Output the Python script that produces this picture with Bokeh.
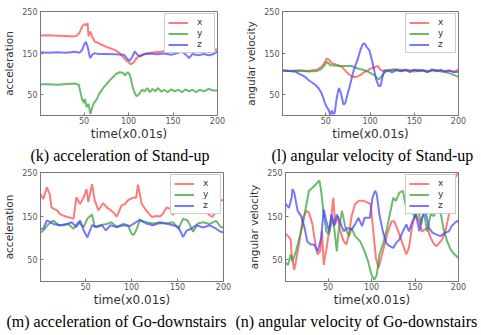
from bokeh.plotting import figure
from bokeh.layouts import column, row
from bokeh.models import Range1d, FixedTicker, Title
from bokeh.embed import file_html
from bokeh.resources import INLINE

# ---------------- data (time in 0.01 s) ----------------
X_TICKS = [50, 100, 150, 200]
Y_TICKS = [50, 150, 250]

# (k) acceleration of Stand-up
K_X_T = [0, 10, 20, 30, 38, 42, 45, 48, 50, 52, 54, 55, 57, 59, 62, 66, 70, 75, 80, 85, 90, 95, 98, 101, 103, 106, 109, 112, 116, 120, 124, 130, 139, 148, 157, 163, 170, 180, 188, 195, 200]
K_X_V = [192, 193, 192, 191, 190, 192, 200, 214, 220, 217, 222, 190, 202, 190, 178, 174, 170, 165, 161, 157, 150, 138, 131, 126, 123, 128, 138, 143, 146, 149, 150, 152, 154, 155, 155, 157, 159, 158, 160, 158, 159]
K_Y_T = [0, 10, 20, 30, 40, 44, 46, 48, 50, 51, 53, 55, 57, 59, 61, 64, 67, 71, 75, 79, 83, 86, 90, 94, 96, 99, 101, 103, 105, 107, 109, 112, 115, 118, 121, 124, 127, 130, 133, 137, 140, 144, 148, 152, 156, 160, 164, 168, 172, 176, 180, 185, 190, 195, 200]
K_Y_V = [75, 75, 74, 76, 77, 74, 55, 38, 30, 40, 20, 28, 4, 18, 30, 38, 52, 65, 75, 85, 93, 100, 104, 103, 96, 104, 100, 85, 65, 54, 46, 52, 62, 58, 66, 56, 64, 58, 66, 57, 62, 56, 63, 58, 62, 56, 63, 58, 62, 56, 62, 58, 64, 60, 60]
K_Z_T = [0, 10, 20, 30, 40, 45, 48, 50, 52, 54, 56, 57, 59, 62, 66, 75, 85, 95, 98, 101, 104, 107, 110, 113, 118, 125, 132, 140, 148, 155, 160, 165, 168, 172, 178, 185, 190, 195, 200]
K_Z_V = [152, 151, 152, 151, 153, 151, 158, 170, 177, 165, 145, 138, 146, 150, 148, 148, 147, 146, 138, 131, 140, 154, 146, 142, 148, 149, 147, 149, 146, 150, 154, 145, 138, 148, 145, 148, 145, 147, 154]

# (l) angular velocity of Stand-up
L_X_T = [0, 10, 20, 30, 40, 45, 48, 51, 54, 57, 61, 64, 68, 72, 75, 79, 83, 86, 89, 94, 98, 101, 105, 109, 112, 116, 120, 128, 135, 142, 150, 158, 165, 172, 180, 188, 195, 200]
L_X_V = [108, 107, 108, 107, 110, 117, 125, 137, 133, 125, 123, 121, 117, 108, 101, 95, 92, 94, 97, 105, 109, 113, 116, 119, 109, 106, 108, 110, 107, 109, 106, 108, 105, 110, 106, 108, 105, 111]
L_Y_T = [0, 10, 20, 30, 40, 45, 49, 51, 53, 55, 60, 64, 70, 79, 83, 86, 92, 98, 102, 105, 108, 110, 112, 116, 120, 128, 135, 145, 155, 165, 175, 180, 188, 195, 200]
L_Y_V = [108, 107, 108, 106, 107, 112, 122, 129, 126, 121, 120, 119, 119, 119, 116, 113, 110, 105, 100, 97, 90, 87, 92, 102, 109, 111, 110, 108, 110, 107, 109, 107, 103, 97, 93]
L_Z_T = [0, 8, 16, 20, 23, 27, 30, 34, 38, 42, 45, 47, 49, 51, 53, 55, 56, 57, 58, 60, 62, 64, 65, 67, 69, 70, 72, 73, 75, 77, 79, 81, 83, 85, 87, 89, 91, 93, 95, 96, 98, 99, 101, 103, 105, 107, 110, 112, 114, 116, 120, 125, 130, 135, 140, 145, 150, 155, 160, 165, 170, 175, 180, 185, 190, 195, 200]
L_Z_V = [108, 107, 105, 100, 97, 92, 86, 80, 74, 65, 54, 43, 30, 20, 14, 2, 8, 12, 4, 6, 38, 60, 66, 54, 35, 26, 30, 38, 55, 70, 88, 105, 118, 129, 142, 157, 168, 174, 170, 165, 160, 158, 143, 125, 105, 86, 70, 72, 92, 109, 108, 104, 109, 106, 110, 104, 110, 106, 109, 104, 111, 106, 110, 105, 108, 104, 105]

# (m) acceleration of Go-downstairs
M_X_T = [0, 4, 8, 11, 13, 16, 19, 22, 26, 30, 34, 37, 40, 44, 48, 51, 53, 57, 60, 64, 69, 73, 77, 80, 84, 89, 93, 96, 101, 105, 107, 111, 116, 122, 127, 131, 134, 138, 142, 145, 149, 155, 162, 170, 178, 185, 188, 192, 196, 200]
M_X_V = [205, 189, 216, 201, 170, 166, 163, 155, 151, 148, 146, 144, 193, 178, 193, 212, 182, 223, 186, 163, 180, 170, 164, 159, 149, 174, 178, 186, 192, 192, 222, 178, 163, 148, 150, 149, 155, 170, 167, 152, 193, 190, 180, 172, 165, 152, 148, 163, 186, 187]
M_Y_T = [0, 4, 10, 15, 21, 26, 31, 37, 42, 48, 52, 57, 60, 66, 73, 78, 84, 91, 96, 100, 102, 105, 109, 116, 123, 131, 138, 145, 151, 156, 161, 167, 172, 178, 185, 192, 197, 200]
M_Y_V = [110, 117, 132, 140, 129, 129, 132, 121, 136, 125, 144, 154, 125, 129, 132, 136, 125, 132, 129, 110, 106, 117, 140, 136, 133, 136, 133, 136, 121, 144, 140, 114, 133, 136, 132, 139, 125, 124]
M_Z_T = [0, 4, 8, 15, 22, 30, 35, 40, 44, 48, 52, 57, 62, 68, 72, 77, 84, 91, 98, 105, 109, 116, 123, 131, 138, 145, 151, 156, 160, 165, 170, 178, 185, 192, 197, 200]
M_Z_V = [121, 121, 140, 132, 129, 132, 136, 125, 140, 117, 101, 129, 125, 129, 117, 129, 125, 129, 127, 136, 142, 133, 129, 134, 133, 129, 125, 102, 117, 121, 129, 124, 129, 121, 114, 113]

# (n) angular velocity of Go-downstairs
N_X_T = [0, 4, 7, 8, 11, 13, 17, 21, 25, 28, 32, 36, 38, 41, 43, 45, 48, 51, 54, 56, 58, 61, 64, 68, 71, 74, 77, 81, 85, 91, 96, 99, 102, 105, 108, 111, 115, 119, 123, 126, 130, 136, 140, 143, 147, 151, 155, 158, 164, 168, 172, 175, 181, 185, 189, 192, 196, 200]
N_X_V = [112, 104, 96, 62, 27, 46, 92, 146, 162, 158, 131, 77, 62, 70, 115, 38, 73, 115, 154, 192, 131, 150, 115, 92, 85, 108, 150, 177, 185, 185, 181, 177, 115, 54, 31, 54, 85, 115, 138, 138, 119, 85, 62, 77, 131, 154, 135, 115, 123, 100, 85, 81, 96, 115, 154, 192, 238, 250]
N_Y_T = [0, 4, 7, 9, 13, 17, 21, 25, 28, 32, 36, 40, 42, 45, 48, 51, 55, 57, 60, 62, 66, 70, 74, 77, 81, 87, 92, 96, 100, 103, 106, 109, 113, 117, 121, 125, 128, 132, 136, 139, 142, 145, 149, 153, 157, 160, 164, 168, 172, 175, 179, 183, 187, 191, 194, 200]
N_Y_V = [46, 38, 62, 46, 69, 100, 131, 177, 208, 215, 223, 232, 208, 154, 115, 108, 146, 123, 69, 115, 162, 123, 104, 123, 104, 92, 69, 46, 15, 4, 15, 62, 85, 115, 154, 192, 185, 204, 208, 177, 162, 200, 146, 169, 131, 162, 115, 154, 150, 173, 162, 119, 92, 73, 65, 54]
N_Z_T = [0, 5, 8, 9, 11, 15, 19, 23, 26, 30, 34, 38, 42, 45, 48, 51, 54, 57, 60, 64, 68, 72, 77, 81, 85, 89, 92, 98, 101, 104, 106, 109, 113, 117, 121, 125, 128, 132, 136, 140, 143, 147, 151, 155, 158, 162, 166, 170, 174, 179, 185, 189, 192, 196, 200]
N_Z_V = [181, 169, 192, 212, 204, 162, 150, 123, 92, 85, 85, 69, 100, 165, 138, 115, 154, 127, 154, 135, 115, 123, 119, 131, 146, 127, 146, 146, 192, 208, 200, 154, 115, 88, 81, 77, 88, 96, 115, 131, 115, 138, 154, 115, 146, 162, 123, 112, 108, 104, 112, 115, 127, 135, 140]

SERIES_NAMES = ["x", "y", "z"]
COLORS = ["#ff4848", "#33a033", "#4444ff"]


def make_panel(series, ylabel, caption, w, h, left, right, top, bottom, cap_offset):
    p = figure(width=w, height=h, output_backend="svg", toolbar_location=None,
               x_range=Range1d(1, 200), y_range=Range1d(0, 250),
               min_border_left=left, min_border_right=right,
               min_border_top=top, min_border_bottom=bottom,
               background_fill_color="white", border_fill_color="white")
    for (t, v), name, col in zip(series, SERIES_NAMES, COLORS):
        p.line(t, v, line_color=col, line_width=2, line_alpha=0.72, legend_label=name)
    p.xgrid.visible = False
    p.ygrid.visible = False
    p.outline_line_color = "#777777"
    p.xaxis.ticker = FixedTicker(ticks=X_TICKS)
    p.yaxis.ticker = FixedTicker(ticks=Y_TICKS)
    for ax in (p.xaxis[0], p.yaxis[0]):
        ax.major_tick_in = 3
        ax.major_tick_out = 0
        ax.minor_tick_line_color = None
        ax.axis_line_color = "#777777"
        ax.major_tick_line_color = "#777777"
        ax.major_label_text_font = "DejaVu Sans"
        ax.major_label_text_font_size = "8px"
        ax.major_label_text_color = "#555555"
        ax.axis_label_text_font = "DejaVu Sans"
        ax.axis_label_text_font_style = "normal"
        ax.axis_label_text_color = "#333333"
    p.xaxis.axis_label = "time(x0.01s)"
    p.xaxis.axis_label_text_font_size = "12px"
    p.xaxis.major_label_standoff = 1
    p.xaxis.axis_label_standoff = 0
    p.yaxis.axis_label = ylabel
    p.yaxis.axis_label_text_font_size = "10.5px"
    p.yaxis.major_label_standoff = 3
    p.yaxis.axis_label_standoff = 4
    lg = p.legend[0]
    lg.location = "top_right"
    lg.margin = 2
    lg.padding = 3
    lg.spacing = 1
    lg.glyph_width = 20
    lg.glyph_height = 9
    lg.label_height = 9
    lg.label_width = 14
    lg.label_standoff = 9
    lg.label_text_font = "DejaVu Sans"
    lg.label_text_font_size = "9px"
    lg.label_text_color = "#333333"
    lg.border_line_color = "#999999"
    lg.background_fill_alpha = 1.0
    p.add_layout(Title(text=caption, align="left", offset=cap_offset,
                       text_font="Liberation Serif", text_font_size="16px",
                       text_font_style="normal", text_color="black", standoff=2), "below")
    return p


p1 = make_panel([(K_X_T, K_X_V), (K_Y_T, K_Y_V), (K_Z_T, K_Z_V)], "acceleration",
                "(k) acceleration of Stand-up", 240, 165, 39, 23, 8, 48, -10)
p2 = make_panel([(L_X_T, L_X_V), (L_Y_T, L_Y_V), (L_Z_T, L_Z_V)], "angular velocity",
                "(l) angular velocity of Stand-up", 241, 165, 42, 23, 11, 50, -11)
p3 = make_panel([(M_X_T, M_X_V), (M_Y_T, M_Y_V), (M_Z_T, M_Z_V)], "acceleration",
                "(m) acceleration of Go-downstairs", 235, 170, 39, 12, 7, 52, -34)
p4 = make_panel([(N_X_T, N_X_V), (N_Y_T, N_Y_V), (N_Z_T, N_Z_V)], "angular velocity",
                "(n) angular velocity of Go-downstairs", 246, 170, 50, 23, 6, 54, -50)

layout = column(row(p1, p2, spacing=0), row(p3, p4, spacing=0), spacing=0)
open("out.html", "w").write(file_html(layout, INLINE))
